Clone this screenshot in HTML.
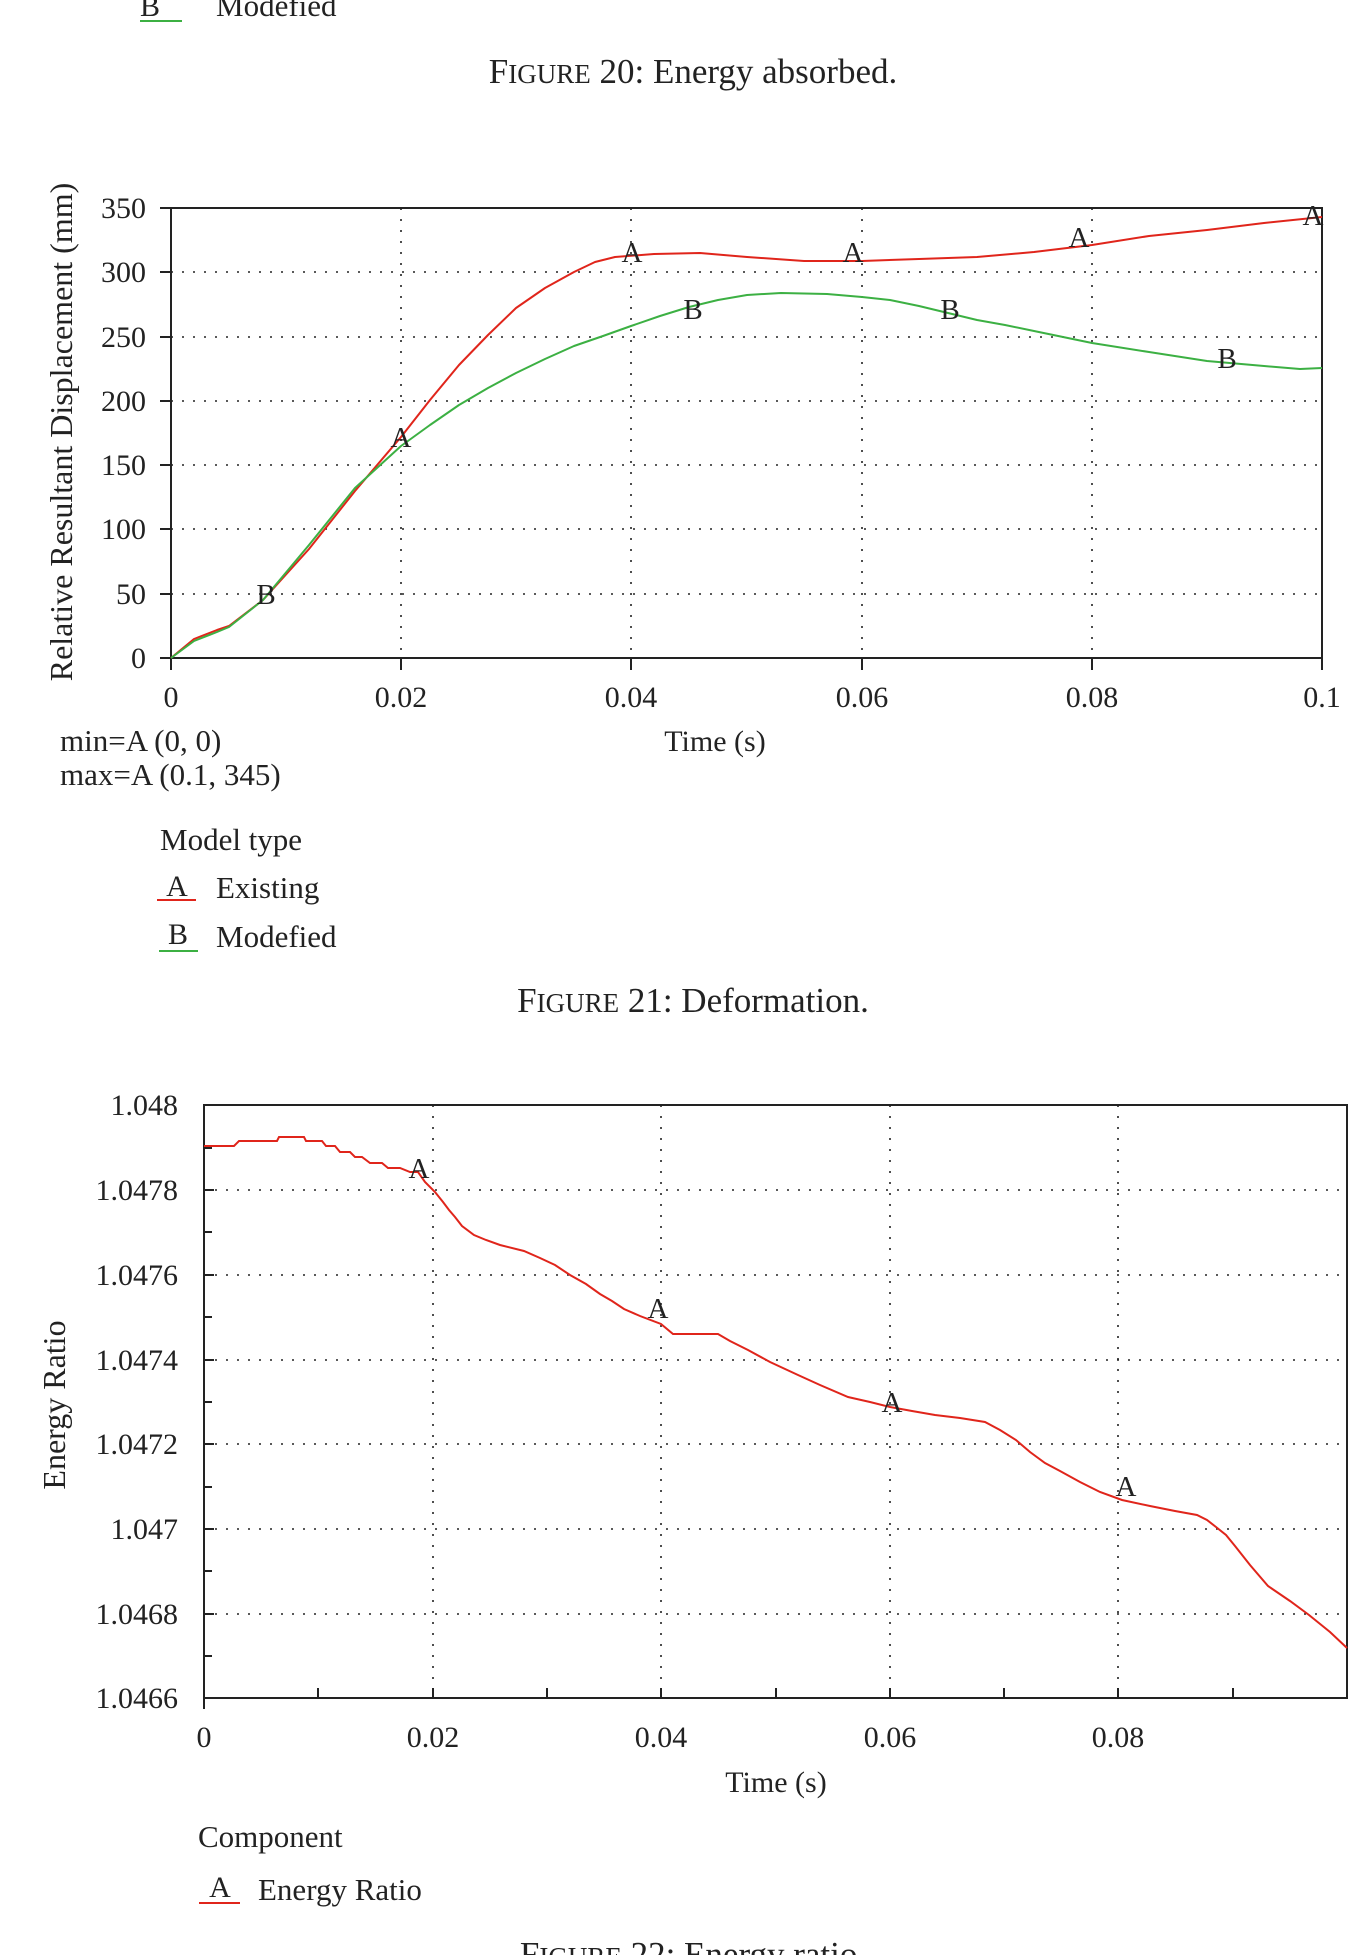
<!DOCTYPE html>
<html><head><meta charset="utf-8"><style>
html,body{margin:0;padding:0;background:#fff;}
svg{display:block;font-family:"Liberation Serif",serif;}
</style></head><body>
<svg width="1369" height="1955" viewBox="0 0 1369 1955" xmlns="http://www.w3.org/2000/svg">
<!-- top remnant -->
<text x="150" y="16" font-size="30" text-anchor="middle" fill="#222">B</text>
<line x1="140" y1="21" x2="182" y2="21" stroke="#3cb043" stroke-width="2"/>
<text x="216" y="16" font-size="31" fill="#222">Modefied</text>
<text x="693" y="83" font-size="35" text-anchor="middle" fill="#222">F<tspan font-size="27">IGURE</tspan> 20: Energy absorbed.</text>

<!-- Chart 1 -->
<g stroke="#222" stroke-width="1.6" stroke-dasharray="2,9" fill="none">
<line x1="171" y1="272" x2="1322" y2="272"/><line x1="171" y1="337" x2="1322" y2="337"/>
<line x1="171" y1="401" x2="1322" y2="401"/><line x1="171" y1="465" x2="1322" y2="465"/>
<line x1="171" y1="529" x2="1322" y2="529"/><line x1="171" y1="594" x2="1322" y2="594"/>
<line x1="401" y1="208" x2="401" y2="658"/><line x1="631" y1="208" x2="631" y2="658"/>
<line x1="862" y1="208" x2="862" y2="658"/><line x1="1092" y1="208" x2="1092" y2="658"/>
</g>
<rect x="171" y="208" width="1151" height="450" fill="none" stroke="#222" stroke-width="2"/>
<g stroke="#222" stroke-width="2">
<line x1="160" y1="208" x2="171" y2="208"/><line x1="160" y1="272" x2="171" y2="272"/><line x1="160" y1="337" x2="171" y2="337"/><line x1="160" y1="401" x2="171" y2="401"/><line x1="160" y1="465" x2="171" y2="465"/><line x1="160" y1="529" x2="171" y2="529"/><line x1="160" y1="594" x2="171" y2="594"/><line x1="160" y1="658" x2="171" y2="658"/>
<line x1="171" y1="658" x2="171" y2="670"/><line x1="401" y1="658" x2="401" y2="670"/><line x1="631" y1="658" x2="631" y2="670"/><line x1="862" y1="658" x2="862" y2="670"/><line x1="1092" y1="658" x2="1092" y2="670"/><line x1="1322" y1="658" x2="1322" y2="670"/>
</g>
<g font-size="30" fill="#222" text-anchor="end">
<text x="146" y="218">350</text><text x="146" y="282">300</text><text x="146" y="347">250</text><text x="146" y="411">200</text><text x="146" y="475">150</text><text x="146" y="539">100</text><text x="146" y="604">50</text><text x="146" y="668">0</text>
</g>
<g font-size="30" fill="#222" text-anchor="middle">
<text x="171" y="707">0</text><text x="401" y="707">0.02</text><text x="631" y="707">0.04</text><text x="862" y="707">0.06</text><text x="1092" y="707">0.08</text><text x="1322" y="707">0.1</text>
<text x="715" y="751">Time (s)</text>
</g>
<text transform="translate(72,432) rotate(-90)" font-size="32" text-anchor="middle" fill="#222">Relative Resultant Displacement (mm)</text>
<text x="60" y="751" font-size="31" fill="#222">min=A (0, 0)</text>
<text x="60" y="785" font-size="31" fill="#222">max=A (0.1, 345)</text>
<polyline fill="none" stroke="#e0251b" stroke-width="2" stroke-linejoin="round" points="171,658 194,639 217,630 229,626 263,600 309,549 355,491 401,437 430,400 459,365 488,335 516,308 545,288 574,272 595,262 615,257 654,254 700,253 747,257 804,261 862,261 919,259 977,257 1034,252 1092,245 1149,236 1207,230 1264,223 1322,217"/>
<polyline fill="none" stroke="#3cb043" stroke-width="2" stroke-linejoin="round" points="171,658 194,641 217,632 229,627 263,600 309,545 355,488 401,446 430,425 459,405 488,388 516,373 545,359 574,346 603,336 631,326 660,316 689,307 718,300 747,295 781,293 827,294 862,297 890,300 919,306 948,313 977,320 1005,325 1034,331 1063,337 1092,343 1149,352 1207,361 1264,366 1300,369 1322,368"/>
<g font-size="29" fill="#222" text-anchor="middle">
<text x="401" y="447">A</text><text x="632" y="262">A</text><text x="853" y="262">A</text><text x="1079" y="247">A</text><text x="1313" y="225">A</text>
<text x="266" y="604">B</text><text x="693" y="319">B</text><text x="950" y="319">B</text><text x="1227" y="368">B</text>
</g>
<text x="160" y="850" font-size="31" fill="#222">Model type</text>
<text x="177" y="896" font-size="30" text-anchor="middle" fill="#222">A</text>
<line x1="157" y1="900" x2="196" y2="900" stroke="#e0251b" stroke-width="2"/>
<text x="216" y="898" font-size="31" fill="#222">Existing</text>
<text x="178" y="944" font-size="30" text-anchor="middle" fill="#222">B</text>
<line x1="159" y1="951" x2="198" y2="951" stroke="#3cb043" stroke-width="2"/>
<text x="216" y="947" font-size="31" fill="#222">Modefied</text>
<text x="693" y="1012" font-size="35" text-anchor="middle" fill="#222">F<tspan font-size="27">IGURE</tspan> 21: Deformation.</text>

<!-- Chart 2 -->
<g stroke="#222" stroke-width="1.6" stroke-dasharray="2,9" fill="none">
<line x1="204" y1="1190" x2="1347" y2="1190"/><line x1="204" y1="1275" x2="1347" y2="1275"/><line x1="204" y1="1360" x2="1347" y2="1360"/><line x1="204" y1="1444" x2="1347" y2="1444"/><line x1="204" y1="1529" x2="1347" y2="1529"/><line x1="204" y1="1614" x2="1347" y2="1614"/>
<line x1="433" y1="1105" x2="433" y2="1698"/><line x1="661" y1="1105" x2="661" y2="1698"/><line x1="890" y1="1105" x2="890" y2="1698"/><line x1="1118" y1="1105" x2="1118" y2="1698"/>
</g>
<rect x="204" y="1105" width="1143" height="593" fill="none" stroke="#222" stroke-width="2"/>
<g stroke="#222" stroke-width="2">
<line x1="204" y1="1105" x2="214" y2="1105"/><line x1="204" y1="1148" x2="212" y2="1148"/><line x1="204" y1="1190" x2="214" y2="1190"/><line x1="204" y1="1232" x2="212" y2="1232"/><line x1="204" y1="1275" x2="214" y2="1275"/><line x1="204" y1="1317" x2="212" y2="1317"/><line x1="204" y1="1360" x2="214" y2="1360"/><line x1="204" y1="1402" x2="212" y2="1402"/><line x1="204" y1="1444" x2="214" y2="1444"/><line x1="204" y1="1487" x2="212" y2="1487"/><line x1="204" y1="1529" x2="214" y2="1529"/><line x1="204" y1="1571" x2="212" y2="1571"/><line x1="204" y1="1614" x2="214" y2="1614"/><line x1="204" y1="1656" x2="212" y2="1656"/>
<line x1="204" y1="1698" x2="204" y2="1709"/><line x1="318" y1="1698" x2="318" y2="1688"/><line x1="433" y1="1698" x2="433" y2="1688"/><line x1="547" y1="1698" x2="547" y2="1688"/><line x1="661" y1="1698" x2="661" y2="1688"/><line x1="776" y1="1698" x2="776" y2="1688"/><line x1="890" y1="1698" x2="890" y2="1688"/><line x1="1004" y1="1698" x2="1004" y2="1688"/><line x1="1118" y1="1698" x2="1118" y2="1688"/><line x1="1233" y1="1698" x2="1233" y2="1688"/>
</g>
<g font-size="30" fill="#222" text-anchor="end">
<text x="178" y="1115">1.048</text><text x="178" y="1200">1.0478</text><text x="178" y="1285">1.0476</text><text x="178" y="1370">1.0474</text><text x="178" y="1454">1.0472</text><text x="178" y="1539">1.047</text><text x="178" y="1624">1.0468</text><text x="178" y="1708">1.0466</text>
</g>
<g font-size="30" fill="#222" text-anchor="middle">
<text x="204" y="1747">0</text><text x="433" y="1747">0.02</text><text x="661" y="1747">0.04</text><text x="890" y="1747">0.06</text><text x="1118" y="1747">0.08</text>
<text x="776" y="1792">Time (s)</text>
</g>
<text transform="translate(65,1405) rotate(-90)" font-size="32" text-anchor="middle" fill="#222">Energy Ratio</text>
<polyline fill="none" stroke="#e0251b" stroke-width="2" points="204,1146 234,1146 239,1141 277,1141 279,1137 304,1137 306,1141 322,1141 326,1146 335,1146 340,1152 350,1152 355,1157 362,1157 370,1163 382,1163 388,1168 400,1168 410,1172 418,1172 425,1182 435,1192 443,1202 449,1210 455,1217 462,1226 474,1235 486,1240 500,1245 524,1251 540,1258 555,1265 570,1275 586,1284 600,1294 612,1301 624,1309 640,1316 661,1324 673,1334 718,1334 730,1341 748,1350 770,1362 798,1375 820,1385 848,1397 870,1402 890,1407 912,1411 935,1415 960,1418 985,1422 1000,1430 1016,1440 1030,1452 1045,1463 1060,1471 1080,1482 1100,1492 1122,1500 1150,1506 1175,1511 1197,1515 1207,1520 1216,1527 1226,1535 1235,1546 1250,1565 1268,1586 1290,1601 1309,1615 1330,1632 1347,1648"/>
<g font-size="29" fill="#222" text-anchor="middle">
<text x="419" y="1178">A</text><text x="658" y="1318">A</text><text x="892" y="1412">A</text><text x="1126" y="1496">A</text>
</g>
<text x="198" y="1847" font-size="31" fill="#222">Component</text>
<text x="220" y="1897" font-size="30" text-anchor="middle" fill="#222">A</text>
<line x1="199" y1="1903" x2="240" y2="1903" stroke="#e0251b" stroke-width="2"/>
<text x="258" y="1900" font-size="31" fill="#222">Energy Ratio</text>
<text x="693" y="1966" font-size="35" text-anchor="middle" fill="#222">F<tspan font-size="27">IGURE</tspan> 22: Energy ratio.</text>
</svg>
</body></html>
